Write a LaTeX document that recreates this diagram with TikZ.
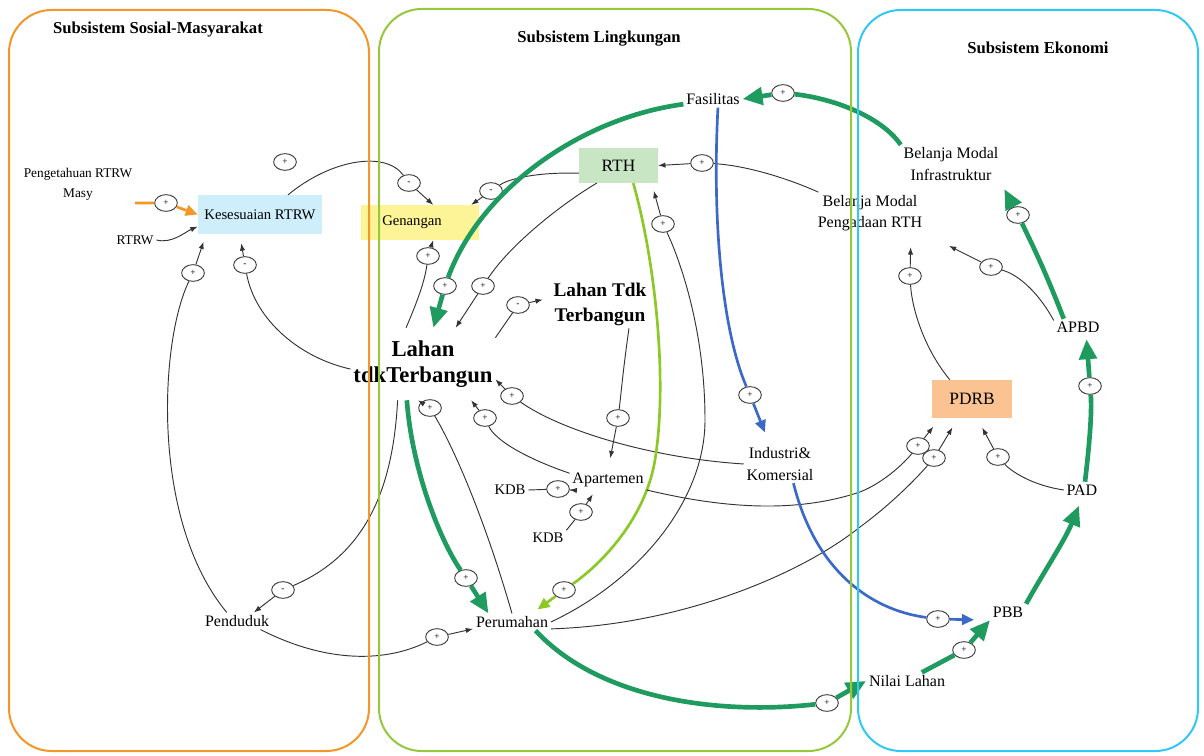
\documentclass[tikz,border=0pt]{standalone}
\usepackage{fontspec}
\setmainfont{Liberation Serif}
\usetikzlibrary{shapes.geometric,arrows.meta}

\definecolor{sosFrame}{RGB}{245,150,40}
\definecolor{lingFrame}{RGB}{150,200,60}
\definecolor{ekoFrame}{RGB}{50,200,245}
\definecolor{loopGreen}{RGB}{32,155,95}
\definecolor{limeGreen}{RGB}{140,200,40}
\definecolor{flowBlue}{RGB}{60,105,200}
\definecolor{kesBlue}{RGB}{205,238,250}
\definecolor{genYellow}{RGB}{252,244,150}
\definecolor{rthGreen}{RGB}{200,230,195}
\definecolor{pdrbOrange}{RGB}{250,195,145}

\begin{document}
\begin{tikzpicture}[x=0.75pt,y=-0.75pt,
    lbl/.style={align=center, inner sep=2pt, font=\fontsize{12}{16}\selectfont},
    small lbl/.style={lbl, font=\fontsize{10}{15}\selectfont},
    kdb lbl/.style={lbl, font=\fontsize{11}{13}\selectfont},
    big lbl/.style={align=center, inner sep=2pt, font=\bfseries\fontsize{17}{20}\selectfont},
    mid lbl/.style={align=center, inner sep=2pt, font=\bfseries\fontsize{14.5}{18.8}\selectfont},
    sys title/.style={font=\bfseries\fontsize{12.5}{15}\selectfont},
    var box/.style={lbl, minimum height=26pt},
    frame/.style={rounded corners=32pt, line width=1.5pt},
    pol/.style={ellipse, draw=black!75, fill=white, line width=0.7pt,
        minimum width=17pt, minimum height=12.5pt, inner sep=0pt,
        font=\fontsize{7}{7}\selectfont},
    link/.style={draw=black!80, line width=0.7pt},
    link arrow/.style={link, -{Latex[length=5.5pt,width=4pt]}},
    fat/.style={draw=loopGreen, line width=3.5pt},
    fat arrow/.style={fat, -{Triangle[length=15pt,width=13pt]}},
    lime/.style={draw=limeGreen, line width=2pt},
    lime arrow/.style={lime, -{Triangle[length=9pt,width=8pt]}},
    blue link/.style={draw=flowBlue, line width=2pt},
    blue arrow/.style={blue link, -{Triangle[length=9pt,width=8pt]}},
    orange link/.style={draw=sosFrame, line width=2pt},
    orange arrow/.style={orange link, -{Triangle[length=9pt,width=8pt]}}]
    \useasboundingbox (0,0) rectangle (1204,756);

    % titles
    \node[sys title] (tSos) at (158,30) {Subsistem Sosial-Masyarakat};
    \node[sys title] (tLing) at (599,39) {Subsistem Lingkungan};
    \node[sys title] (tEko) at (1038,48) {Subsistem Ekonomi};

    % variables
    \node[small lbl] (peng) at (78,184) {Pengetahuan RTRW\\Masy};
    \node[small lbl] (rtrw) at (135,240) {RTRW};
    \node[var box, fill=kesBlue, minimum width=93pt, minimum height=29pt,
        font=\fontsize{11}{13}\selectfont] (kes) at (260,214.5) {Kesesuaian RTRW};
    \node[var box, fill=genYellow, minimum width=88.5pt,
        font=\fontsize{11}{13}\selectfont] (gen) at (420,222.5) {\hspace*{-12pt}Genangan};
    \node[var box, fill=rthGreen, minimum width=59pt,
        font=\fontsize{13}{15}\selectfont] (rth) at (618.5,165.5) {RTH};
    \node[lbl] (fas) at (713,99) {Fasilitas};
    \node[lbl] (bmi) at (951,164) {Belanja Modal\\Infrastruktur};
    \node[lbl] (bmr) at (870,213) {Belanja Modal\\Pengadaan RTH};
    \node[big lbl, minimum height=54pt] (lahan) at (423,364) {Lahan\\tdkTerbangun};
    \node[mid lbl] (ltt) at (600,304) {Lahan Tdk\\Terbangun};
    \node[lbl] (apt) at (608,480) {Apartemen};
    \node[kdb lbl] (kdbA) at (510,490) {KDB};
    \node[kdb lbl] (kdbB) at (548,538) {KDB};
    \node[lbl] (ind) at (780,464) {Industri\&\\Komersial};
    \node[lbl] (per) at (512,622) {Perumahan};
    \node[lbl] (pend) at (237,621) {Penduduk};
    \node[lbl] (nilai) at (907,681) {Nilai Lahan};
    \node[lbl] (pbb) at (1008,612) {PBB};
    \node[lbl] (pad) at (1082,490) {PAD};
    \node[lbl] (apbd) at (1078,327) {APBD};
    \node[var box, fill=pdrbOrange, minimum width=60pt, minimum height=28.5pt,
        font=\fontsize{13}{15}\selectfont] (pdrb) at (972,399) {PDRB};

    % polarity signs
    \node[pol] (s1) at (285,162) {+};
    \node[pol] (s2) at (166,203) {+};
    \node[pol] (s3) at (409,183) {-};
    \node[pol] (s4) at (491,191) {-};
    \node[pol] (s5) at (193,273) {+};
    \node[pol] (s6) at (245,265) {-};
    \node[pol] (s7) at (428,256) {+};
    \node[pol] (s8) at (445,286) {+};
    \node[pol] (s9) at (483,286) {+};
    \node[pol] (s10) at (518,305) {-};
    \node[pol] (s11) at (783,93) {+};
    \node[pol] (s12) at (702,163) {+};
    \node[pol] (s13) at (663,224) {+};
    \node[pol] (s14) at (1018,215) {+};
    \node[pol] (s15) at (991,267) {+};
    \node[pol] (s16) at (910,276) {+};
    \node[pol] (s17) at (1090,386) {+};
    \node[pol] (s18) at (998,457) {+};
    \node[pol] (s19) at (918,446) {+};
    \node[pol] (s20) at (934,458) {+};
    \node[pol] (s21) at (938,619) {+};
    \node[pol] (s22) at (964,650) {+};
    \node[pol] (s23) at (827,703) {+};
    \node[pol] (s24) at (750,395) {+};
    \node[pol] (s25) at (618,418) {+};
    \node[pol] (s26) at (512,396) {+};
    \node[pol] (s27) at (430,408) {+};
    \node[pol] (s28) at (485,418) {+};
    \node[pol] (s29) at (558,489) {+};
    \node[pol] (s30) at (581,512) {+};
    \node[pol] (s31) at (466,578) {+};
    \node[pol] (s32) at (564,590) {+};
    \node[pol] (s33) at (437,637) {+};
    \node[pol] (s34) at (283,590) {-};

    % sosial-masyarakat links
    \draw[orange link] (peng.south east) -- (s2);
    \draw[orange arrow] (s2) -- (kes.west);
    \draw[link arrow] (rtrw.east) .. controls (172,244) and (185,232) .. (kes.191);
    \draw[link] (kes.35) .. controls (330,160) and (385,150) .. (s3);
    \draw[link arrow] (s3) -- (gen.53);
    \draw[link] (pend.140) .. controls (150,520) and (160,340) .. (s5);
    \draw[link arrow, shorten >=6pt] (s5) -- (kes.200);
    \draw[link] (lahan.184) .. controls (300,358) and (255,320) .. (s6);
    \draw[link arrow, shorten >=7pt] (s6) -- (kes.224);
    \draw[link] (lahan.235) .. controls (393,490) and (365,555) .. (s34);
    \draw[link arrow] (s34) -- (pend.27);
    \draw[link] (pend.-20) .. controls (320,660) and (380,665) .. (s33);
    \draw[link arrow] (s33) -- (per.190);

    % lingkungan links
    \draw[link] (rth.191) .. controls (540,172) and (510,178) .. (s4);
    \draw[link arrow] (s4) -- (gen.19);
    \draw[link] (lahan.115) .. controls (418,300) and (425,280) .. (s7);
    \draw[link arrow] (s7) -- (gen.-53);
    \draw[fat] (fas.190) .. controls (580,118) and (480,190) .. (s8);
    \draw[fat arrow] (s8) -- (lahan.74);
    \draw[link] (rth.219) .. controls (560,205) and (510,245) .. (s9);
    \draw[link arrow] (s9) -- (lahan.48);
    \draw[link] (lahan.20) -- (s10);
    \draw[link arrow, shorten >=6pt] (s10) -- (ltt.173);
    \draw[link] (bmr.158) .. controls (780,175) and (740,165) .. (s12);
    \draw[link arrow] (s12) -- (rth.east);
    \draw[link] (per.east) .. controls (640,580) and (705,500) .. (705,420)
        .. controls (705,330) and (680,260) .. (s13);
    \draw[link arrow, shorten >=6pt] (s13) -- (rth.-28);
    \draw[link] (ltt.-40) .. controls (623,370) and (621,395) .. (s25);
    \draw[link arrow, shorten >=9pt] (s25) -- (apt.north);
    \draw[link] (ind.west) .. controls (650,458) and (560,430) .. (s26);
    \draw[link arrow] (s26) -- (lahan.-12);
    \draw[link] (per.north) .. controls (485,520) and (455,450) .. (s27);
    \draw[link arrow] (s27) -- (lahan.262);
    \draw[link] (apt.170) .. controls (525,458) and (495,440) .. (s28);
    \draw[link arrow] (s28) -- (lahan.-37);
    \draw[link] (kdbA.east) -- (s29);
    \draw[link arrow] (s29) -- (apt.south west);
    \draw[link] (kdbB.north east) -- (s30);
    \draw[link arrow, shorten >=4pt] (s30) -- (apt.219);
    \draw[fat] (lahan.246) .. controls (412,470) and (440,540) .. (s31);
    \draw[fat arrow] (s31) -- (per.160);
    \draw[lime] (rth.-50) .. controls (655,260) and (668,380) .. (655,460)
        .. controls (645,520) and (600,565) .. (s32);
    \draw[lime arrow, shorten >=5pt] (s32) -- (per.23);
    \draw[blue link] (fas.-60) .. controls (712,220) and (722,330) .. (s24);
    \draw[blue arrow, shorten >=10pt] (s24) -- (ind.118);

    % ekonomi links
    \draw[fat] (bmi.north west) .. controls (880,115) and (830,98) .. (s11);
    \draw[fat arrow] (s11) -- (fas.east);
    \draw[fat] (apbd.150) .. controls (1045,270) and (1030,240) .. (s14);
    \draw[fat arrow, shorten >=5pt] (s14) -- (bmi.south east);
    \draw[link] (apbd.165) .. controls (1040,295) and (1020,275) .. (s15);
    \draw[link arrow, shorten >=20pt] (s15) -- (bmr.south east);
    \draw[link] (pdrb.139) .. controls (925,350) and (912,310) .. (s16);
    \draw[link arrow, shorten >=10pt] (s16) -- (bmr.-27);
    \draw[fat] (pad.70) .. controls (1090,440) and (1092,410) .. (s17);
    \draw[fat arrow, shorten >=3pt] (s17) -- (apbd.-45);
    \draw[link] (pad.west) .. controls (1030,485) and (1010,470) .. (s18);
    \draw[link arrow, shorten >=8pt] (s18) -- (pdrb.-75);
    \draw[link] (apt.south east) .. controls (730,510) and (800,512) .. (860,492)
        .. controls (885,482) and (905,462) .. (s19);
    \draw[link arrow, shorten >=8pt] (s19) -- (pdrb.-149);
    \draw[link] (per.-10) .. controls (680,625) and (800,575) .. (860,527)
        .. controls (890,505) and (915,480) .. (s20);
    \draw[link arrow, shorten >=8pt] (s20) -- (pdrb.-126);
    \draw[blue link] (ind.-55) .. controls (815,570) and (870,610) .. (s21);
    \draw[blue arrow, shorten >=12pt] (s21) -- (pbb.south west);
    \draw[fat] (per.-20) .. controls (600,700) and (720,715) .. (s23);
    \draw[fat arrow] (s23) -- (nilai.west);
    \draw[fat] (nilai.30) -- (s22);
    \draw[fat arrow] (s22) -- (pbb.south west);
    \draw[fat arrow, shorten >=6pt] (pbb.north east) .. controls (1045,570) and (1065,540) .. (pad.south);

    % subsystem frames
    \draw[frame, draw=sosFrame] (9,10) rectangle (369,751);
    \draw[frame, draw=lingFrame] (379,9) rectangle (851,751);
    \draw[frame, draw=ekoFrame] (858,10) rectangle (1198,751);
\end{tikzpicture}
\end{document}
